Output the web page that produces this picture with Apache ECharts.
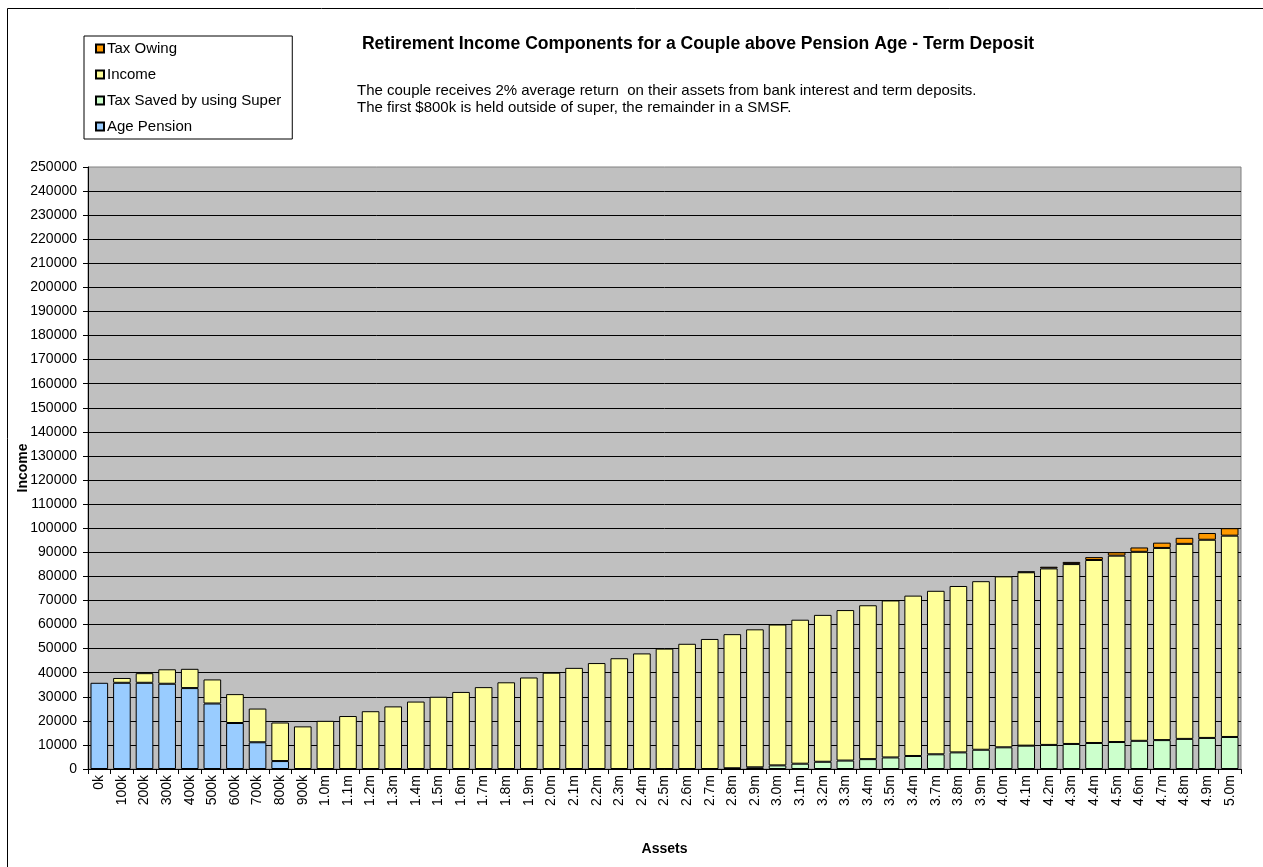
<!DOCTYPE html>
<html>
<head>
<meta charset="utf-8">
<title>Retirement Income Components</title>
<script src="https://cdn.jsdelivr.net/npm/echarts@6/dist/echarts.min.js"></script>
<style>
  html, body { margin: 0; padding: 0; background: #fff; }
  #chart { width: 1263px; height: 867px; }
</style>
</head>
<body>
<div id="chart"></div>
<script>
// Asset levels (note the repeated 3.4m label in the series of categories)
const categories = [
  '0k','100k','200k','300k','400k','500k','600k','700k','800k','900k',
  '1.0m','1.1m','1.2m','1.3m','1.4m','1.5m','1.6m','1.7m','1.8m','1.9m',
  '2.0m','2.1m','2.2m','2.3m','2.4m','2.5m','2.6m','2.7m','2.8m','2.9m',
  '3.0m','3.1m','3.2m','3.3m','3.4m','3.5m','3.4m','3.7m','3.8m','3.9m',
  '4.0m','4.1m','4.2m','4.3m','4.4m','4.5m','4.6m','4.7m','4.8m','4.9m',
  '5.0m'
];

// Age Pension received
const agePension = [
  35800, 35800, 35800, 35400, 33600, 27200, 19100, 11100, 3300, null,
  null, null, null, null, null, null, null, null, null, null,
  null, null, null, null, null, null, null, null, null, null,
  null, null, null, null, null, null, null, null, null, null,
  null, null, null, null, null, null, null, null, null, null,
  null
];

// Tax saved by holding assets in super
const taxSaved = [
  null, null, null, null, null, null, null, null, null, null,
  null, null, null, null, null, null, null, null, null, null,
  null, null, null, null, null, null, null, null, 300, 700,
  1500, 2200, 3000, 3500, 4100, 4800, 5400, 6100, 6900, 8000,
  9000, 9700, 10000, 10400, 10800, 11200, 11700, 12000, 12500, 12900,
  13300
];

// Net investment income
const income = [
  null, 2000, 4000, 6000, 8000, 10000, 12000, 14000, 16000, 17700,
  20000, 22000, 24000, 26000, 28000, 30000, 32000, 34000, 36000, 38000,
  40000, 42000, 44000, 46000, 48000, 50000, 52000, 54000, 55700, 57300,
  58500, 59800, 61000, 62500, 63900, 65200, 66600, 67900, 69100, 70000,
  71000, 72000, 73300, 74700, 76000, 77400, 78500, 79800, 81000, 82300,
  83600
];

// Tax owing
const taxOwing = [
  null, null, null, null, null, null, null, null, null, null,
  null, null, null, null, null, null, null, null, null, null,
  null, null, null, null, null, null, null, null, null, null,
  null, null, null, null, null, null, null, null, null, null,
  null, 300, 700, 900, 1200, 1400, 1800, 2200, 2500, 2800,
  3100
];

const titleText = 'Retirement Income Components for a Couple above Pension Age - Term Deposit';
const noteLines = [
  'The couple receives 2% average return  on their assets from bank interest and term deposits.',
  'The first $800k is held outside of super, the remainder in a SMSF.'
];

const FONT = '"Liberation Sans", Arial, sans-serif';

function barSeries(name, data, color) {
  return {
    name: name,
    type: 'bar',
    stack: 'total',
    data: data,
    barCategoryGap: '22%',
    itemStyle: { color: color, borderColor: '#000', borderWidth: 1 },
    emphasis: { disabled: true }
  };
}

const chart = echarts.init(document.getElementById('chart'), null, { renderer: 'canvas' });

chart.setOption({
  animation: false,
  backgroundColor: '#fff',
  textStyle: { fontFamily: FONT },
  graphic: [
    {
      type: 'rect',
      shape: { x: 7.5, y: 8.5, width: 1300, height: 900 },
      style: { fill: 'none', stroke: '#000', lineWidth: 1 },
      silent: true
    },
    {
      type: 'text',
      x: 698, y: 44,
      style: {
        text: titleText,
        font: 'bold 17.6px ' + FONT,
        fill: '#000',
        textAlign: 'center',
        textVerticalAlign: 'middle'
      }
    },
    {
      type: 'text',
      x: 357, y: 82,
      style: {
        text: noteLines.join('\n'),
        font: '15px ' + FONT,
        lineHeight: 17,
        fill: '#000',
        textAlign: 'left',
        textVerticalAlign: 'top'
      }
    }
  ],
  legend: {
    orient: 'vertical',
    left: 84,
    top: 36,
    padding: [5, 11, 5, 11],
    itemGap: 11,
    itemWidth: 8,
    itemHeight: 8,
    icon: 'rect',
    backgroundColor: '#fff',
    borderColor: '#000',
    borderWidth: 1,
    textStyle: { fontSize: 15, color: '#000', fontFamily: FONT, padding: [1, 0, 0, -2] },
    data: ['Tax Owing', 'Income', 'Tax Saved by using Super', 'Age Pension']
  },
  grid: {
    left: 88,
    right: 22,
    top: 167,
    bottom: 98,
    show: true,
    backgroundColor: '#C0C0C0',
    borderColor: '#808080',
    borderWidth: 1
  },
  xAxis: {
    type: 'category',
    data: categories,
    name: 'Assets',
    nameLocation: 'middle',
    nameGap: 73,
    nameTextStyle: { fontSize: 14, fontWeight: 'bold', color: '#000' },
    axisLine: { lineStyle: { color: '#000', width: 1 } },
    axisTick: { show: true, length: 5, lineStyle: { color: '#000' } },
    axisLabel: { rotate: 90, fontSize: 14, color: '#000', margin: 6, interval: 0 },
    splitLine: { show: false }
  },
  yAxis: {
    type: 'value',
    min: 0,
    max: 250000,
    interval: 10000,
    name: 'Income',
    nameLocation: 'middle',
    nameRotate: 90,
    nameGap: 58,
    nameMoveOverlap: false,
    nameTextStyle: { fontSize: 14, fontWeight: 'bold', color: '#000' },
    axisLine: { show: true, lineStyle: { color: '#000', width: 1 } },
    axisTick: { show: true, length: 5, lineStyle: { color: '#000' } },
    axisLabel: {
      fontSize: 14,
      color: '#000',
      margin: 11,
      formatter: function (v) { return String(v); }
    },
    splitLine: { show: true, showMaxLine: false, lineStyle: { color: '#000', width: 1 } }
  },
  series: [
    barSeries('Age Pension', agePension, '#99CCFF'),
    barSeries('Tax Saved by using Super', taxSaved, '#CCFFCC'),
    barSeries('Income', income, '#FFFF99'),
    barSeries('Tax Owing', taxOwing, '#FF9900')
  ]
});
</script>
</body>
</html>
